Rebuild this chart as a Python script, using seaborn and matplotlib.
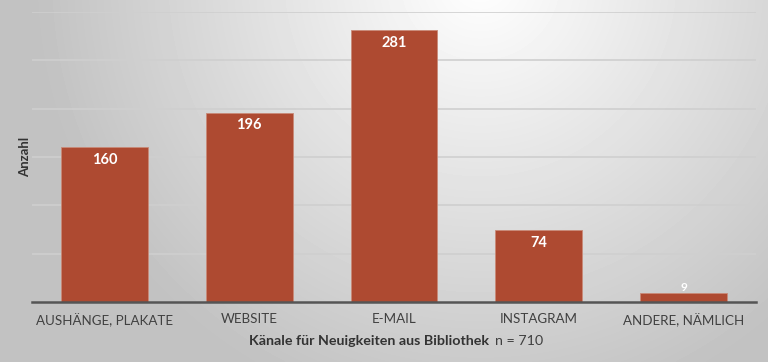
import numpy as np
import pandas as pd
import matplotlib.pyplot as plt
import seaborn as sns

categories = ['AUSHÄNGE, PLAKATE', 'WEBSITE', 'E-MAIL', 'INSTAGRAM', 'ANDERE, NÄMLICH']
counts = [160, 196, 281, 74, 9]
n_total = 710

BAR_COLOR = '#AE4A31'

sns.set_theme(style='white')
plt.rcParams['font.family'] = ['Lato', 'DejaVu Sans']

fig = plt.figure(figsize=(7.68, 3.62), dpi=100)

# radial grey background, brightest near the top centre-right
bg = fig.add_axes([0, 0, 1, 1], zorder=-10)
yy, xx = np.mgrid[0:362, 0:768]
r = np.hypot(xx - 480, (yy + 20) * 1.0) / 520
shade = np.clip(1.0 - 0.28 * r, 0.76, 1.0)
bg.imshow(shade, cmap='gray', vmin=0, vmax=1, aspect='auto',
          extent=[0, 1, 0, 1], origin='upper')
bg.set_axis_off()

ax = fig.add_axes([32 / 768, 60 / 362, 724 / 768, 290 / 362])
ax.patch.set_alpha(0)
df = pd.DataFrame({'kanal': categories, 'anzahl': counts})
sns.barplot(data=df, x='kanal', y='anzahl', color=BAR_COLOR, saturation=1,
            width=0.6, ax=ax, zorder=3, edgecolor='#c98a78', linewidth=0.6)

ax.set_ylim(0, 300)
ax.set_xlim(-0.5, len(categories) - 0.5)
ax.set_yticks(np.arange(50, 301, 50))
ax.yaxis.grid(True, color='#cfcfcf', linewidth=1.2, zorder=0)
ax.set_yticklabels([])
ax.tick_params(axis='y', length=0)
ax.tick_params(axis='x', length=0, pad=8, labelsize=9.6, colors='#404040')
for s in ['top', 'right', 'left']:
    ax.spines[s].set_visible(False)
ax.spines['bottom'].set_color('#555555')
ax.spines['bottom'].set_linewidth(1.8)
ax.spines['bottom'].set_zorder(4)

for p, v in zip(ax.patches, counts):
    x = p.get_x() + p.get_width() / 2
    y = p.get_height()
    off = -9 if v > 30 else 4
    ax.annotate(str(v), (x, y), xytext=(0, off), textcoords='offset points',
                ha='center', va='center', color='white', fontweight='bold',
                fontsize=10.5 if v > 30 else 8.5, zorder=5)

ax.set_xlabel('')
ax.set_ylabel('Anzahl', fontweight='bold', fontsize=9.5, color='#333333')
ax.yaxis.set_label_coords(-1 / 724, 0.5)

fig.text(0.637, 0.058, 'Känale für Neuigkeiten aus Bibliothek', ha='right', va='center',
         fontweight='bold', fontsize=10.3, color='#333333')
fig.text(0.644, 0.058, f'n = {n_total}', ha='left', va='center',
         fontsize=10.3, color='#404040')

fig.savefig('out.png', dpi=100)
